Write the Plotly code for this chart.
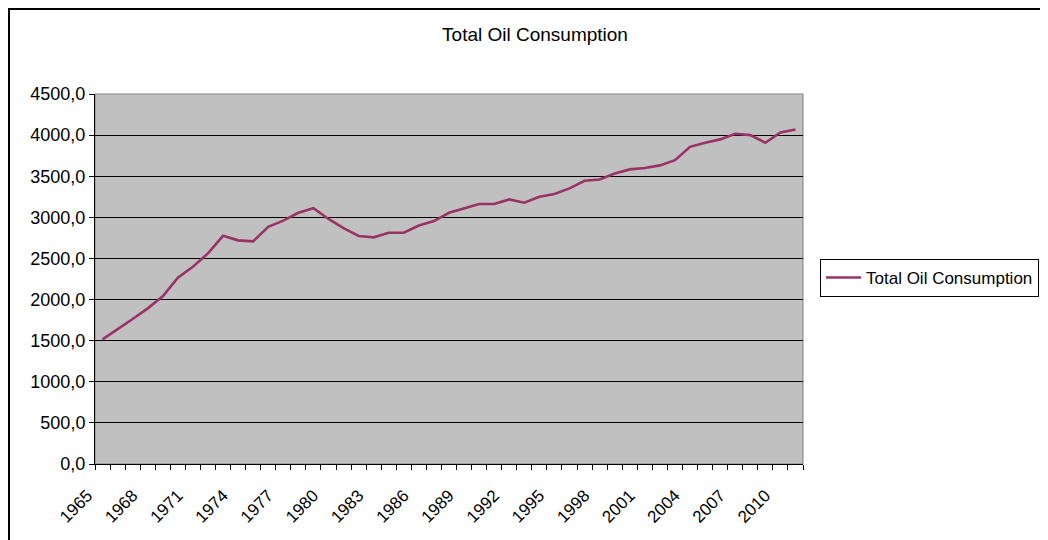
import plotly.graph_objects as go

years = list(range(1965, 2012))
consumption = [
    1516, 1638, 1763, 1893, 2040, 2265, 2398, 2562, 2775, 2720,
    2708, 2884, 2960, 3055, 3110, 2980, 2868, 2773, 2757, 2812,
    2812, 2900, 2955, 3055, 3110, 3163, 3163, 3218, 3178, 3250,
    3284, 3352, 3445, 3460, 3534, 3583, 3600, 3632, 3696, 3857,
    3907, 3948, 4016, 4000, 3907, 4033, 4068,
]
label_years = list(range(1965, 2011, 3))
series_name = "Total Oil Consumption"
chart_title = "Total Oil Consumption"

FONT = "Liberation Sans, Arial, sans-serif"
# page body has an 8px margin; figure is drawn at (8, 8)
OFF = 8
W, H = 1040, 532
L, R, T, B = 95 - OFF, 245, 94 - OFF, 76
pw, ph = W - L - R, H - T - B

def px_x(p):
    """page x pixel -> paper fraction"""
    return (p - OFF - L) / pw

def px_y(p):
    """page y pixel -> paper fraction"""
    return (H - B - (p - OFF)) / ph

fig = go.Figure()
fig.add_trace(go.Scatter(
    x=years, y=consumption, mode="lines", name=series_name,
    line=dict(color="#993366", width=2.6),
))

fig.update_layout(
    width=W, height=H,
    margin=dict(l=L, r=R, t=T, b=B, autoexpand=False),
    paper_bgcolor="white",
    plot_bgcolor="#C0C0C0",
    separators=",.",
    font=dict(family=FONT, size=17, color="black"),
    title=dict(text=chart_title, xref="container", x=(535 - OFF) / W,
               xanchor="center", yref="container", y=1 - (34 - OFF) / H,
               yanchor="middle",
               font=dict(family=FONT, size=19, color="black")),
    showlegend=True,
    legend=dict(x=px_x(820), xanchor="left", y=px_y(278), yanchor="middle",
                bordercolor="black", borderwidth=1, bgcolor="white",
                font=dict(family=FONT, size=17, color="black"),
                itemwidth=35),
    xaxis=dict(
        range=[1964.5, 2011.5], tickmode="array", tickvals=label_years,
        ticktext=[str(y) for y in label_years], tickangle=-45,
        ticks="", showgrid=False, zeroline=False,
        showline=True, linecolor="black", linewidth=1,
        tickfont=dict(family=FONT, size=17),
        ticklabelstandoff=14, ticklabelshift=-15,
        minor=dict(tickmode="linear", tick0=1964.5, dtick=1, ticks="outside",
                   ticklen=5, tickcolor="black", showgrid=False),
    ),
    yaxis=dict(
        range=[0, 4500], dtick=500, tick0=0, tickformat=".1f",
        ticks="outside", ticklen=5, tickcolor="black",
        showgrid=True, gridcolor="black", gridwidth=1,
        zeroline=False, showline=True, linecolor="black", linewidth=1,
        tickfont=dict(family=FONT, size=18),
    ),
)

# plot area border (grey top/right)
fig.add_shape(type="rect", xref="paper", yref="paper", x0=0, x1=1, y0=0, y1=1,
              line=dict(color="#808080", width=1), layer="below")
# outer chart border
fig.add_shape(type="rect", xref="paper", yref="paper",
              x0=px_x(9), x1=px_x(1060), y0=px_y(560), y1=px_y(9),
              line=dict(color="black", width=2))

fig.write_html("out.html")
